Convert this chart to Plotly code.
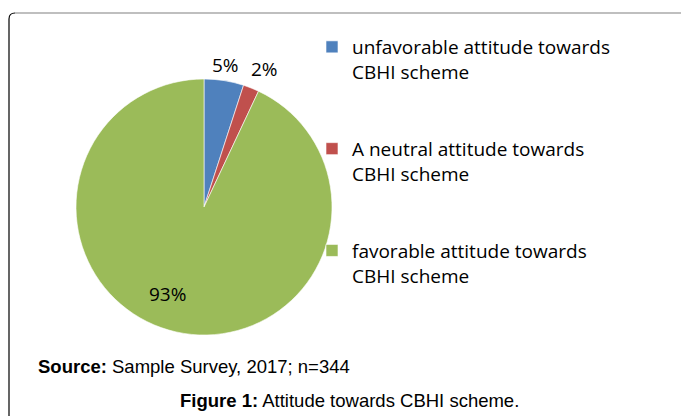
import math
import plotly.graph_objects as go

categories = [
    "unfavorable attitude towards<br>CBHI scheme",
    "A neutral attitude towards<br>CBHI scheme",
    "favorable attitude towards<br>CBHI scheme",
]
shares = [5, 2, 93]
colors = ["#4F81BD", "#C0504D", "#9BBB59"]

source_text = "<b>Source:</b> Sample Survey, 2017; n=344"
caption_text = "<b>Figure 1:</b> Attitude towards CBHI scheme."

W, H = 681, 416

# pie geometry (pixels)
CX, CY, R = 204, 207, 128
# radial placement of the percent labels (fraction of radius) and angular nudge (deg)
label_rfrac = [1.12, 1.18, 0.74]
label_dang = [-0.5, 2.2, 10]

legend_labels = [c + "<br>\u00a0<br>\u00a0" for c in categories]

fig = go.Figure(
    go.Pie(
        labels=legend_labels,
        values=shares,
        sort=False,
        direction="clockwise",
        rotation=0,
        marker=dict(colors=colors, line=dict(color="white", width=0.6)),
        textinfo="none",
        domain=dict(x=[(CX - R) / W, (CX + R) / W], y=[1 - (CY + R) / H, 1 - (CY - R) / H]),
        hoverinfo="label+percent",
    )
)

# percent labels computed from the data (mid-angle of each slice)
total = sum(shares)
annotations = []
cum = 0.0
for v, rf, da in zip(shares, label_rfrac, label_dang):
    mid = (cum + v / 2) / total * 360 + da
    cum += v
    px = CX + rf * R * math.sin(math.radians(mid))
    py = CY - rf * R * math.cos(math.radians(mid))
    annotations.append(
        dict(
            text=f"{round(v / total * 100)}%",
            x=px / W,
            y=1 - py / H,
            xref="paper",
            yref="paper",
            xanchor="center",
            yanchor="middle",
            showarrow=False,
            font=dict(family="Open Sans, Lato, sans-serif", size=19, color="#000000"),
        )
    )

annotations += [
    dict(
        text=source_text,
        x=36 / W,
        y=1 - 366 / H,
        xref="paper",
        yref="paper",
        xanchor="left",
        yanchor="middle",
        showarrow=False,
        font=dict(family="Liberation Sans, Arial", size=18.5, color="#000000"),
    ),
    dict(
        text=caption_text,
        x=349 / W,
        y=1 - 400 / H,
        xref="paper",
        yref="paper",
        xanchor="center",
        yanchor="middle",
        showarrow=False,
        font=dict(family="Liberation Sans, Arial", size=18.5, color="#000000"),
    ),
]

fig.update_layout(
    width=W,
    height=H,
    margin=dict(l=0, r=0, t=0, b=0),
    paper_bgcolor="white",
    plot_bgcolor="white",
    showlegend=True,
    legend=dict(
        x=312 / W,
        y=1 - 28 / H,
        xanchor="left",
        yanchor="top",
        valign="top",
        font=dict(family="Open Sans, Lato, sans-serif", size=19, color="#000000"),
        bgcolor="rgba(0,0,0,0)",
        tracegroupgap=0,
    ),
    shapes=[
        dict(
            type="path",
            xref="paper",
            yref="paper",
            xsizemode="pixel",
            ysizemode="pixel",
            xanchor=0,
            yanchor=1,
            path="M 9 -430 L 9 -19 Q 9 -13 15 -13",
            line=dict(color="#000000", width=1.2),
        ),
        dict(
            type="path",
            xref="paper",
            yref="paper",
            xsizemode="pixel",
            ysizemode="pixel",
            xanchor=0,
            yanchor=1,
            path="M 15 -13 L 700 -13",
            line=dict(color="#808080", width=1.2),
        ),
    ],
    annotations=annotations,
)

fig.write_html("out.html")
